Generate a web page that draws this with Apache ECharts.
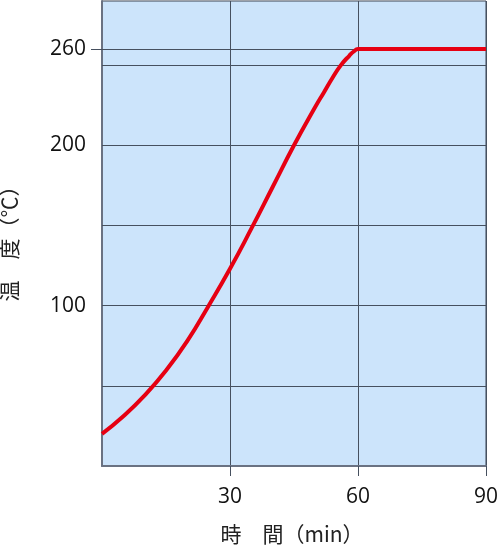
<!DOCTYPE html>
<html>
<head>
<meta charset="utf-8">
<script src="https://cdn.jsdelivr.net/npm/echarts@6/dist/echarts.min.js"></script>
<style>
html,body{margin:0;padding:0;background:#fff;}
#chart{width:500px;height:549px;}
</style>
</head>
<body>
<div id="chart"></div>
<script>
const minutes = [0, 5, 10, 15, 20, 25, 30, 35, 40, 45, 50, 52, 54, 56, 58, 59, 60, 75, 90];
const temperature = [20, 31, 44, 59.5, 78, 100, 123, 148, 174, 200, 224, 233, 242, 250, 256, 258.5, 260, 260, 260];
const xTickLabels = [30, 60, 90];
const yTickLabels = [100, 200, 260];
const yGridLines = [50, 100, 150, 200, 250, 260];
const xAxisName = '時\u3000間（min）';
const yAxisName = '温\u3000度（℃）';

const gridColor = '#46505f';
const chart = echarts.init(document.getElementById('chart'));
chart.setOption({
  animation: false,
  grid: {
    left: 102, right: 14, top: 1, bottom: 83,
    outerBoundsMode: 'none', containLabel: false,
    show: true, backgroundColor: '#cce4fb', borderColor: '#3c4452', borderWidth: 1
  },
  xAxis: {
    type: 'value', min: 0, max: 90, interval: 30,
    name: xAxisName, nameLocation: 'middle', nameGap: 58,
    nameTextStyle: { fontFamily: 'Noto Sans CJK JP', fontSize: 21, color: '#222', padding: [0, 4, 0, 0] },
    axisLine: { show: true, lineStyle: { color: '#6a7282', width: 2 } },
    axisTick: { show: true, length: 10, customValues: xTickLabels, lineStyle: { color: gridColor, width: 1 } },
    axisLabel: { customValues: xTickLabels, margin: 21, fontFamily: 'Open Sans', fontSize: 21, color: '#111' },
    splitLine: { show: true, lineStyle: { color: gridColor, width: 1 } }
  },
  yAxis: {
    type: 'value', min: 0, max: 290,
    name: yAxisName, nameLocation: 'middle', nameGap: 82, nameRotate: 90,
    nameTextStyle: { fontFamily: 'Noto Sans CJK JP', fontSize: 21, color: '#222', padding: [0, 10, 0, 0] },
    axisLine: { show: true, lineStyle: { color: '#6a7282', width: 2 } },
    axisTick: { show: true, length: 11, customValues: [260], lineStyle: { color: gridColor, width: 1 } },
    axisLabel: { customValues: yTickLabels, margin: 16, fontFamily: 'Open Sans', fontSize: 21, color: '#111' },
    splitLine: { show: false }
  },
  series: [{
    type: 'line',
    data: minutes.map((m, i) => [m, temperature[i]]),
    smooth: 0.5,
    showSymbol: false,
    lineStyle: { color: '#e60012', width: 4 },
    z: 5,
    markLine: {
      silent: true, symbol: 'none', animation: false,
      label: { show: false },
      lineStyle: { color: gridColor, width: 1, type: 'solid' },
      data: yGridLines.map(v => ({ yAxis: v }))
    }
  }]
});
</script>
</body>
</html>
